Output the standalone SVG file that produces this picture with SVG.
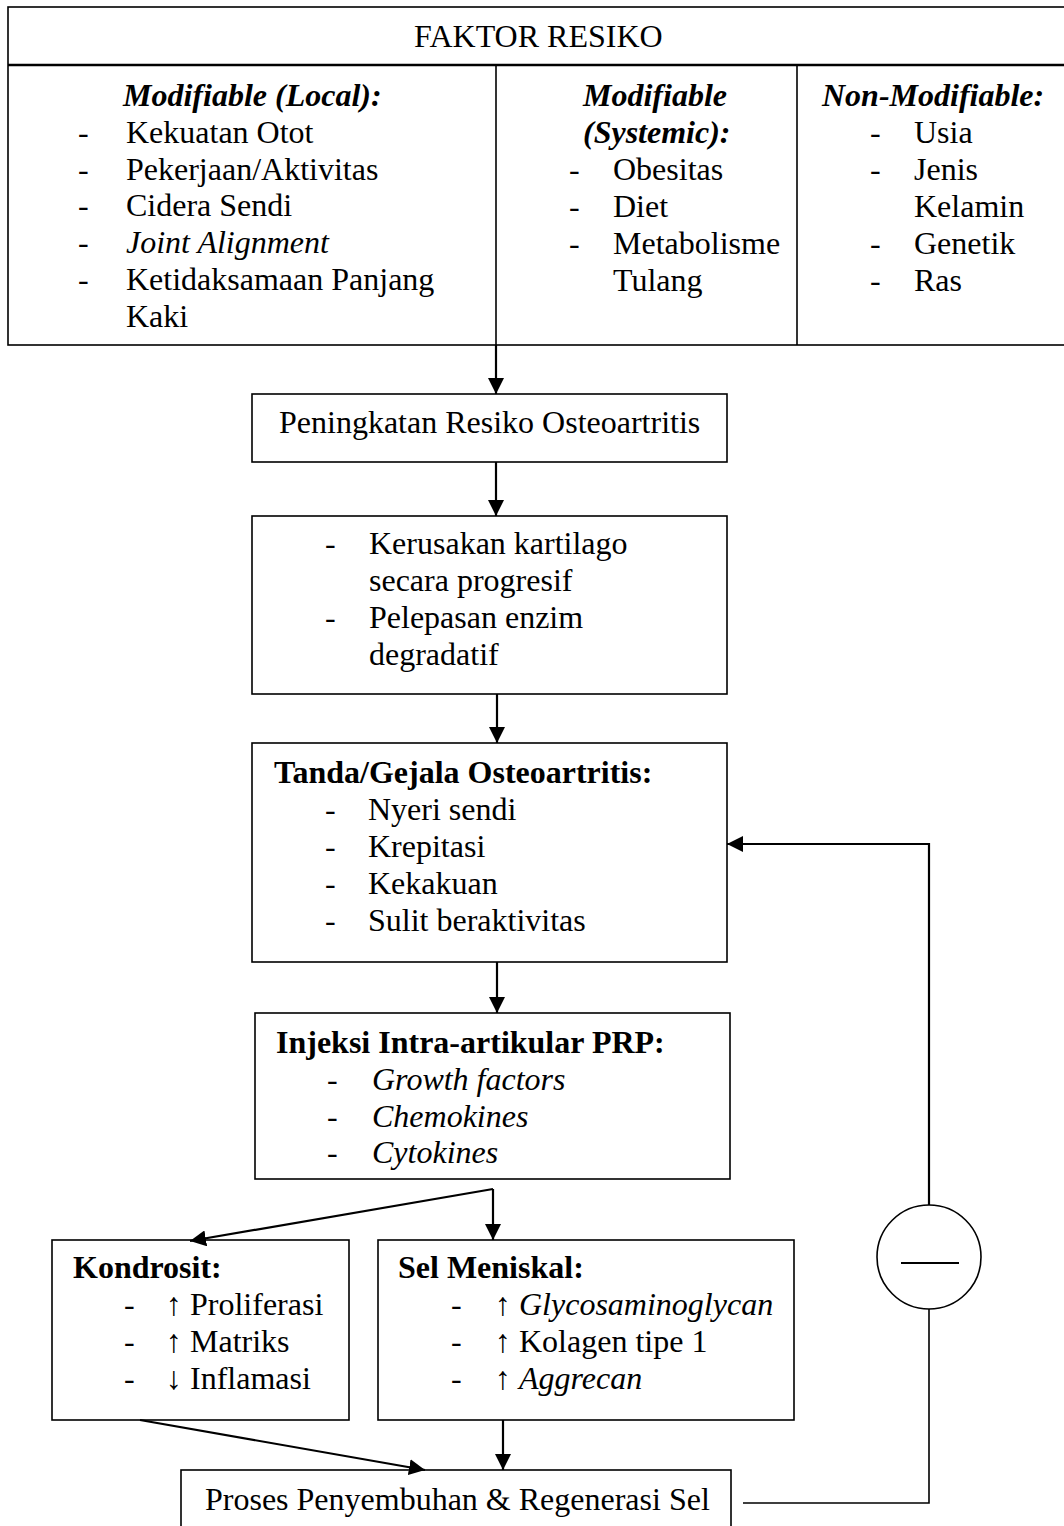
<svg xmlns="http://www.w3.org/2000/svg" width="1064" height="1526" viewBox="0 0 1064 1526">
<style>
text{font-family:"Liberation Serif","Times New Roman",serif;font-size:32px;fill:#000}
.b{font-weight:bold}
.bi{font-weight:bold;font-style:italic}
.i{font-style:italic}
.box{fill:#fff;stroke:#000;stroke-width:1.6}
.ln{fill:none;stroke:#000;stroke-width:2.2}
.thin{fill:none;stroke:#000;stroke-width:1.6}
</style>
<defs>
<marker id="ah" markerUnits="userSpaceOnUse" markerWidth="17" markerHeight="16" refX="16" refY="8" orient="auto">
<path d="M0,0 L16,8 L0,16 Z" fill="#000"/>
</marker>
</defs>
<rect width="1064" height="1526" fill="#fff"/>

<g id="faktor-resiko">
<rect class="box" x="8" y="7" width="1070" height="338"/>
<line x1="8" y1="65" x2="1064" y2="65" stroke="#000" stroke-width="2.6"/>
<line class="thin" x1="496" y1="65" x2="496" y2="345"/>
<line class="thin" x1="797" y1="65" x2="797" y2="345"/>
<text x="414" y="47">FAKTOR RESIKO</text>
<text class="bi" x="123" y="106">Modifiable (Local):</text>
<text x="78" y="143">-</text><text x="126" y="143">Kekuatan Otot</text>
<text x="78" y="180">-</text><text x="126" y="180">Pekerjaan/Aktivitas</text>
<text x="78" y="216">-</text><text x="126" y="216">Cidera Sendi</text>
<text x="78" y="253">-</text><text class="i" x="126" y="253">Joint Alignment</text>
<text x="78" y="290">-</text><text x="126" y="290">Ketidaksamaan Panjang</text>
<text x="126" y="327">Kaki</text>
<text class="bi" x="583" y="106">Modifiable</text>
<text class="bi" x="583" y="143">(Systemic):</text>
<text x="569" y="180">-</text><text x="613" y="180">Obesitas</text>
<text x="569" y="217">-</text><text x="613" y="217">Diet</text>
<text x="569" y="254">-</text><text x="613" y="254">Metabolisme</text>
<text x="613" y="291">Tulang</text>
<text class="bi" x="822" y="106">Non-Modifiable:</text>
<text x="870" y="143">-</text><text x="914" y="143">Usia</text>
<text x="870" y="180">-</text><text x="914" y="180">Jenis</text>
<text x="914" y="217">Kelamin</text>
<text x="870" y="254">-</text><text x="914" y="254">Genetik</text>
<text x="870" y="291">-</text><text x="914" y="291">Ras</text>
</g>

<g id="peningkatan">
<rect class="box" x="252" y="394" width="475" height="68"/>
<text x="279" y="433">Peningkatan Resiko Osteoartritis</text>
</g>

<g id="kerusakan">
<rect class="box" x="252" y="516" width="475" height="178"/>
<text x="325" y="554">-</text><text x="369" y="554">Kerusakan kartilago</text>
<text x="369" y="591">secara progresif</text>
<text x="325" y="628">-</text><text x="369" y="628">Pelepasan enzim</text>
<text x="369" y="665">degradatif</text>
</g>

<g id="tanda-gejala">
<rect class="box" x="252" y="743" width="475" height="219"/>
<text class="b" x="274" y="783">Tanda/Gejala Osteoartritis:</text>
<text x="325" y="820">-</text><text x="368" y="820">Nyeri sendi</text>
<text x="325" y="857">-</text><text x="368" y="857">Krepitasi</text>
<text x="325" y="894">-</text><text x="368" y="894">Kekakuan</text>
<text x="325" y="931">-</text><text x="368" y="931">Sulit beraktivitas</text>
</g>

<g id="injeksi-prp">
<rect class="box" x="255" y="1013" width="475" height="166"/>
<text class="b" x="276" y="1053">Injeksi Intra-artikular PRP:</text>
<text x="327" y="1090">-</text><text class="i" x="372" y="1090">Growth factors</text>
<text x="327" y="1127">-</text><text class="i" x="372" y="1127">Chemokines</text>
<text x="327" y="1163">-</text><text class="i" x="372" y="1163">Cytokines</text>
</g>

<g id="kondrosit">
<rect class="box" x="52" y="1240" width="297" height="180"/>
<text class="b" x="73" y="1278">Kondrosit:</text>
<text x="124" y="1315">-</text><text x="166" y="1315">↑ Proliferasi</text>
<text x="124" y="1352">-</text><text x="166" y="1352">↑ Matriks</text>
<text x="124" y="1389">-</text><text x="166" y="1389">↓ Inflamasi</text>
</g>

<g id="sel-meniskal">
<rect class="box" x="378" y="1240" width="416" height="180"/>
<text class="b" x="398" y="1278">Sel Meniskal:</text>
<text x="451" y="1315">-</text><text x="495" y="1315">↑ <tspan class="i">Glycosaminoglycan</tspan></text>
<text x="451" y="1352">-</text><text x="495" y="1352">↑ Kolagen tipe 1</text>
<text x="451" y="1389">-</text><text x="495" y="1389">↑ <tspan class="i">Aggrecan</tspan></text>
</g>

<g id="proses">
<rect class="box" x="181" y="1470" width="550" height="80"/>
<text x="205" y="1510">Proses Penyembuhan &amp; Regenerasi Sel</text>
</g>

<g id="inhibisi">
<circle cx="929" cy="1257" r="52" fill="#fff" stroke="#000" stroke-width="1.6"/>
<line x1="901" y1="1263" x2="959" y2="1263" stroke="#000" stroke-width="2"/>
</g>

<g id="connectors">
<line class="ln" x1="496" y1="345" x2="496" y2="394" marker-end="url(#ah)"/>
<line class="ln" x1="496" y1="462" x2="496" y2="516" marker-end="url(#ah)"/>
<line class="ln" x1="497" y1="694" x2="497" y2="743" marker-end="url(#ah)"/>
<line class="ln" x1="497" y1="962" x2="497" y2="1013" marker-end="url(#ah)"/>
<line class="ln" x1="493" y1="1189" x2="493" y2="1240" marker-end="url(#ah)"/>
<line class="ln" x1="493" y1="1189" x2="190" y2="1241" marker-end="url(#ah)"/>
<line class="ln" x1="140" y1="1420" x2="425" y2="1470" marker-end="url(#ah)"/>
<line class="ln" x1="503" y1="1420" x2="503" y2="1470" marker-end="url(#ah)"/>
<polyline class="thin" points="743,1503 929,1503 929,1309"/>
<polyline class="ln" points="929,1205 929,844 727,844" marker-end="url(#ah)"/>
</g>
</svg>
